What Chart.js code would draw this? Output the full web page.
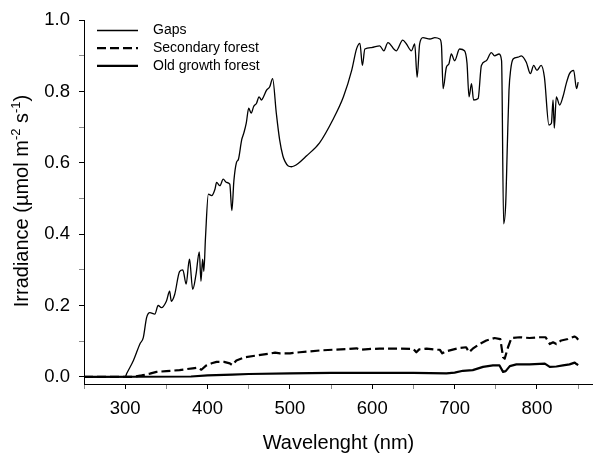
<!DOCTYPE html>
<html>
<head>
<meta charset="utf-8">
<script src="https://cdn.jsdelivr.net/npm/chart.js@4/dist/chart.umd.min.js"></script>
<style>
  html, body { margin: 0; padding: 0; background: #fff; }
  #wrap { width: 593px; height: 457px; }
</style>
</head>
<body>
<div id="wrap"><canvas id="irr-chart"></canvas></div>
<script>
// spectra (nm, umol m-2 s-1)
const gapsNm = [250, 300, 302, 310, 318, 322, 326, 330, 336, 340, 344, 350, 354, 356, 360, 366, 370, 374, 378, 379, 382, 386, 390, 392, 394, 395.5, 397.5, 401, 405, 409, 411, 415, 419, 423, 427, 429.5, 432, 435, 437.5, 441.5, 444, 447, 450, 453, 456, 459.5, 462.5, 465.5, 468, 471.5, 475.5, 479, 483.5, 487.5, 491.5, 494, 498, 502, 505, 510, 520, 536, 552, 565, 575, 581, 585, 588, 591, 599, 609, 614, 619, 629, 637, 641.5, 647.5, 651.5, 654.5, 657.5, 661.5, 670, 676, 682, 684, 686, 690, 693, 696, 700, 706, 712, 715, 717.5, 720.5, 723, 728.5, 732.5, 738.5, 744.5, 748.5, 754, 757, 759.5, 762, 764, 766, 768, 771, 777, 781, 787, 792, 796, 800, 805, 809, 814.5, 817.5, 819.5, 821, 823.5, 827.5, 831.5, 835.5, 839.5, 844.5, 848, 850];
const gapsVal = [0, 0, 0.01, 0.046, 0.093, 0.11, 0.166, 0.18, 0.176, 0.2, 0.194, 0.212, 0.24, 0.212, 0.23, 0.295, 0.3, 0.26, 0.33, 0.315, 0.245, 0.287, 0.35, 0.268, 0.33, 0.296, 0.39, 0.512, 0.508, 0.526, 0.545, 0.536, 0.554, 0.545, 0.54, 0.466, 0.55, 0.6, 0.61, 0.665, 0.683, 0.711, 0.753, 0.739, 0.758, 0.767, 0.785, 0.776, 0.785, 0.803, 0.813, 0.836, 0.739, 0.665, 0.619, 0.604, 0.591, 0.589, 0.591, 0.598, 0.619, 0.656, 0.72, 0.785, 0.859, 0.92, 0.935, 0.873, 0.919, 0.923, 0.928, 0.914, 0.937, 0.914, 0.944, 0.933, 0.914, 0.933, 0.84, 0.933, 0.951, 0.947, 0.951, 0.947, 0.93, 0.808, 0.868, 0.877, 0.905, 0.886, 0.919, 0.914, 0.88, 0.785, 0.822, 0.776, 0.78, 0.873, 0.886, 0.909, 0.9, 0.905, 0.886, 0.429, 0.485, 0.65, 0.803, 0.86, 0.891, 0.896, 0.9, 0.882, 0.85, 0.873, 0.859, 0.873, 0.84, 0.706, 0.711, 0.776, 0.697, 0.785, 0.762, 0.785, 0.822, 0.85, 0.859, 0.808, 0.826];

const secNm = [250, 310, 320, 330, 338, 350, 366, 382, 388, 392.5, 398.5, 405, 411, 420, 427, 430, 435, 445, 460, 475, 482, 488, 500, 512, 536, 552, 570, 581, 585, 595, 609, 633, 650, 653.5, 657, 666, 678, 682, 685, 690, 706, 714, 717.5, 722, 730, 738.5, 748.5, 755.5, 758.8, 760.8, 764.8, 769, 779, 791, 803, 810.5, 815.5, 819.5, 823.5, 829.5, 837.5, 845.5, 848, 850];
const secVal = [0, 0, 0.004, 0.009, 0.014, 0.016, 0.019, 0.024, 0.026, 0.02, 0.032, 0.038, 0.042, 0.042, 0.038, 0.033, 0.046, 0.055, 0.06, 0.065, 0.068, 0.066, 0.066, 0.069, 0.074, 0.076, 0.078, 0.08, 0.076, 0.078, 0.079, 0.079, 0.078, 0.069, 0.077, 0.079, 0.076, 0.076, 0.066, 0.072, 0.081, 0.083, 0.069, 0.079, 0.092, 0.102, 0.109, 0.106, 0.055, 0.051, 0.083, 0.109, 0.111, 0.109, 0.111, 0.111, 0.092, 0.097, 0.092, 0.102, 0.106, 0.113, 0.11, 0.104];

const oldNm = [250, 380, 400, 430, 450, 500, 550, 600, 650, 690, 700, 710, 722, 734.5, 746.5, 754.5, 758.8, 762, 767, 775, 791, 809.5, 815.5, 823.5, 831.5, 839.5, 845.8, 848, 850];
const oldVal = [0, 0.001, 0.004, 0.006, 0.008, 0.01, 0.011, 0.011, 0.011, 0.01, 0.012, 0.017, 0.019, 0.028, 0.032, 0.032, 0.014, 0.016, 0.03, 0.035, 0.035, 0.037, 0.028, 0.029, 0.032, 0.035, 0.04, 0.036, 0.033];

const seriesLabels = ['Gaps', 'Secondary forest', 'Old growth forest'];
const xTicks = [250, 300, 350, 400, 450, 500, 550, 600, 650, 700, 750, 800, 850];
const yTicks = [0, 0.1, 0.2, 0.3, 0.4, 0.5, 0.6, 0.7, 0.8, 0.9, 1.0];

const FONT = "'Liberation Sans', Arial, Helvetica, sans-serif";

const toPoints = (xs, ys) => xs.map((x, i) => ({ x, y: ys[i] }));
const isMajorX = (v) => v % 100 === 0 && v >= 300 && v <= 800;
const isMajorY = (v) => Math.round(v * 10) % 2 === 0;

// legend drawn inside the plot, top-left, like the original
const insideLegend = {
  id: 'insideLegend',
  afterDatasetsDraw(chart) {
    const { ctx } = chart;
    ctx.save();
    ctx.font = `14px ${FONT}`;
    ctx.textBaseline = 'middle';
    ctx.fillStyle = '#000';
    chart.data.datasets.forEach((ds, i) => {
      const y = 30.5 + i * 17.7;
      ctx.beginPath();
      ctx.lineWidth = ds.borderWidth;
      ctx.strokeStyle = ds.borderColor;
      ctx.setLineDash(ds.borderDash || []);
      ctx.moveTo(97, y);
      ctx.lineTo(138, y);
      ctx.stroke();
      ctx.fillText(ds.label, 153, y);
    });
    ctx.restore();
  },
};

// y title with superscripts
const yTitle = {
  id: 'yTitle',
  afterDraw(chart) {
    const { ctx } = chart;
    const parts = [
      ['Irradiance (\u00b5mol m', 20, 0],
      ['-2', 13, -8],
      [' s', 20, 0],
      ['-1', 13, -8],
      [')', 20, 0],
    ];
    ctx.save();
    let total = 0;
    parts.forEach((p) => { ctx.font = `${p[1]}px ${FONT}`; total += ctx.measureText(p[0]).width; });
    ctx.translate(27.5, 201);
    ctx.rotate(-Math.PI / 2);
    ctx.fillStyle = '#000';
    ctx.textBaseline = 'alphabetic';
    let x = -total / 2;
    parts.forEach((p) => {
      ctx.font = `${p[1]}px ${FONT}`;
      ctx.fillText(p[0], x, p[2]);
      x += ctx.measureText(p[0]).width;
    });
    ctx.restore();
  },
};

const ctx = document.getElementById('irr-chart').getContext('2d');

new Chart(ctx, {
  type: 'line',
  data: {
    datasets: [
      {
        label: seriesLabels[0],
        data: toPoints(gapsNm, gapsVal),
        borderColor: '#000',
        borderWidth: 1.3,
        cubicInterpolationMode: 'monotone',
      },
      {
        label: seriesLabels[1],
        data: toPoints(secNm, secVal),
        borderColor: '#000',
        borderWidth: 2.2,
        borderDash: [9, 4],
      },
      {
        label: seriesLabels[2],
        data: toPoints(oldNm, oldVal),
        borderColor: '#000',
        borderWidth: 2.2,
      },
    ],
  },
  options: {
    responsive: true,
    maintainAspectRatio: false,
    animation: false,
    layout: { padding: { top: 16, right: 0, left: 0, bottom: 0 } },
    elements: {
      point: { radius: 0 },
      line: { tension: 0, borderJoinStyle: 'round', fill: false },
    },
    plugins: {
      legend: { display: false },
      tooltip: { enabled: false },
    },
    scales: {
      x: {
        type: 'linear',
        min: 250,
        max: 868,
        afterBuildTicks: (scale) => { scale.ticks = xTicks.map((v) => ({ value: v })); },
        afterFit: (scale) => { scale.height = 73; },
        ticks: {
          autoSkip: false,
          maxRotation: 0,
          padding: 9,
          color: '#000',
          font: { family: FONT, size: 18.5 },
          callback: (v) => (isMajorX(v) ? String(v) : ''),
        },
        grid: {
          drawOnChartArea: false,
          drawTicks: true,
          tickLength: 5,
          tickColor: (c) => (c.tick && isMajorX(c.tick.value) ? '#000' : '#8a8a8a'),
        },
        border: { display: true, color: '#000', width: 1 },
        title: {
          display: true,
          text: 'Wavelenght (nm)',
          color: '#000',
          font: { family: FONT, size: 20 },
          padding: { top: 0, bottom: 2 },
        },
      },
      y: {
        type: 'linear',
        min: -0.02,
        max: 1.0,
        afterBuildTicks: (scale) => { scale.ticks = yTicks.map((v) => ({ value: v })); },
        afterFit: (scale) => { scale.width = 84; },
        ticks: {
          autoSkip: false,
          padding: 9,
          color: '#000',
          font: { family: FONT, size: 18.5 },
          callback: (v) => (isMajorY(v) ? v.toFixed(1) : ''),
        },
        grid: {
          drawOnChartArea: false,
          drawTicks: true,
          tickLength: 5,
          tickColor: (c) => (c.tick && isMajorY(c.tick.value) ? '#000' : '#8a8a8a'),
        },
        border: { display: true, color: '#000', width: 1 },
        title: { display: false },
      },
    },
  },
  plugins: [insideLegend, yTitle],
});
</script>
</body>
</html>
